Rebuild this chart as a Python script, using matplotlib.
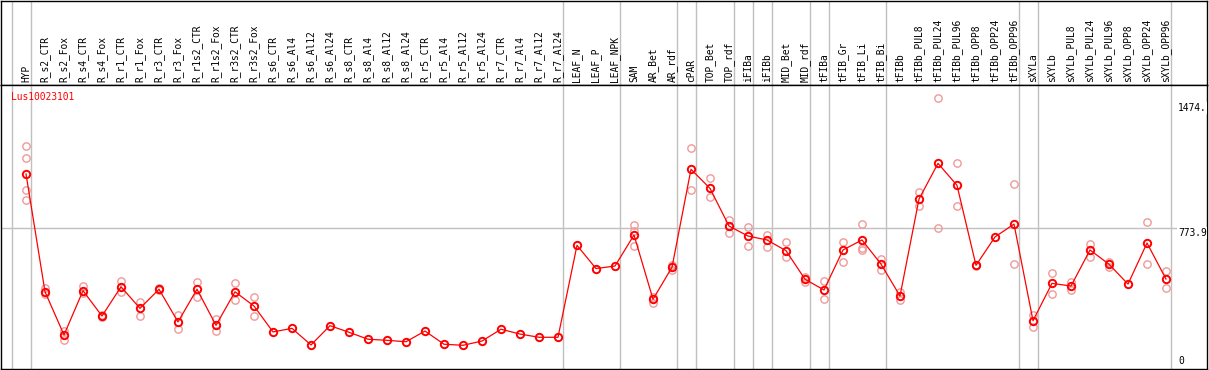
import matplotlib
matplotlib.use("Agg")
import matplotlib.pyplot as plt

W, H = 1209, 370

labels = ["HYP",
          "R_s2_CTR", "R_s2_Fox", "R_s4_CTR", "R_s4_Fox", "R_r1_CTR", "R_r1_Fox",
          "R_r3_CTR", "R_r3_Fox", "R_r1s2_CTR", "R_r1s2_Fox", "R_r3s2_CTR", "R_r3s2_Fox",
          "R_s6_CTR", "R_s6_Al4", "R_s6_Al12", "R_s6_Al24", "R_s8_CTR", "R_s8_Al4",
          "R_s8_Al12", "R_s8_Al24", "R_r5_CTR", "R_r5_Al4", "R_r5_Al12", "R_r5_Al24",
          "R_r7_CTR", "R_r7_Al4", "R_r7_Al12", "R_r7_Al24",
          "LEAF_N", "LEAF_P", "LEAF_NPK",
          "SAM", "AR_Bet", "AR_rdf",
          "cPAR",
          "TOP_Bet", "TOP_rdf",
          "iFIBa", "iFIBb",
          "MID_Bet", "MID_rdf",
          "tFIBa",
          "tFIB_Gr", "tFIB_Li", "tFIB_Bi",
          "tFIBb", "tFIBb_PUL8", "tFIBb_PUL24", "tFIBb_PUL96", "tFIBb_OPP8",
          "tFIBb_OPP24", "tFIBb_OPP96",
          "sXYLa",
          "sXYLb", "sXYLb_PUL8", "sXYLb_PUL24", "sXYLb_PUL96", "sXYLb_OPP8",
          "sXYLb_OPP24", "sXYLb_OPP96"]

# mean expression per sample
means = [1077,
         417, 175, 423, 281, 445, 324, 431, 248, 431, 229, 417, 337,
         192, 212, 119, 227, 190, 151, 145, 137, 197, 123, 117, 141,
         207, 180, 162, 162,
         677, 547, 561,
         735, 375, 554,
         1103,
         996, 785,
         729, 707,
         647, 487,
         427,
         651, 707, 572,
         393, 936, 1136, 1013, 565, 724, 796,
         255,
         464, 449, 651, 571, 460, 690, 488]

# individual replicates (only where they show apart from the mean)
replicates = [[1232, 1164, 987, 931],
              [438, 405], [199, 147], [451, 408], [287, 276], [477, 417], [358, 283],
              [436, 425], [287, 207], [470, 386], [264, 195], [464, 369], [386, 283],
              [], [], [], [], [], [], [], [], [], [], [], [],
              [], [], [], [],
              [], [], [],
              [791, 759, 675], [389, 356], [567, 539],
              [1220, 987],
              [1052, 946], [819, 748],
              [780, 675], [735, 669],
              [694, 610], [501, 473],
              [477, 378],
              [697, 582], [796, 662, 651], [599, 539],
              [417, 371], [977, 897], [1500, 776], [1136, 897], [567, 562], [], [1019, 571],
              [287, 218],
              [520, 403], [470, 427], [684, 613], [585, 557], [], [806, 571], [535, 436]]

# group boundaries (index of first column of each group)
group_starts = [0, 1, 29, 32, 35, 36, 38, 39, 40, 42, 43, 46, 53, 54, 61]

ytick_vals = [1474, 773.9, 0]
ytick_text = ["1474.", "773.9", "0"]

mono = "DejaVu Sans Mono"
fs = 6.9
grey = "#c0c0c0"

fig = plt.figure(figsize=(W / 100, H / 100), dpi=100)

xl = ((1 - 26) / 19, (1207 - 26) / 19)
off = 14 / 19

# header with sample names
axh = fig.add_axes([1 / W, 1 - 85 / H, 1206 / W, 84 / H])
axh.set_xlim(*xl)
axh.set_ylim(0, 1)
axh.set_xticks([])
axh.set_yticks([])
for s in axh.spines.values():
    s.set_linewidth(1.0)
for b in group_starts:
    axh.axvline(b - off, color=grey, lw=1.0)
for i, lab in enumerate(labels):
    axh.text(i, 0.03, lab, rotation=90, ha="center", va="bottom",
             family=mono, fontsize=fs)

# main plot
ax = fig.add_axes([1 / W, 1 / H, 1206 / W, 284 / H])
ax.set_xlim(*xl)
ax.set_ylim((366.2 - 369) * 5.601, (366.2 - 85) * 5.601)
ax.set_xticks([])
ax.set_yticks([])
for s in ax.spines.values():
    s.set_linewidth(1.0)
for b in group_starts:
    ax.axvline(b - off, color=grey, lw=1.0, zorder=1)
ax.axhline(773.9, color=grey, lw=1.0, zorder=1)

for i, reps in enumerate(replicates):
    if reps:
        ax.plot([i] * len(reps), reps, "o", ms=5.3, mfc="none", mec="#ee9a9a",
                mew=1.0, zorder=2)

x = list(range(len(labels)))
ax.plot(x, means, "-", color="red", lw=0.9, zorder=3)
ax.plot(x, means, "o", ms=5.3, mfc="none", mec="red", mew=1.4, zorder=4)

xt = (1178 - 26) / 19
for v, t in zip(ytick_vals, ytick_text):
    va = "bottom" if v == 0 else "top"
    ax.text(xt, v, t, ha="left", va=va, family=mono, fontsize=fs,
            bbox=dict(facecolor="white", edgecolor="none", pad=0.5), zorder=5)

ax.text(10 / 1206, 1 - 12 / 284, "Lus10023101", transform=ax.transAxes,
        ha="left", va="center", color="red", family=mono, fontsize=fs)

fig.savefig("out.png", dpi=100)
